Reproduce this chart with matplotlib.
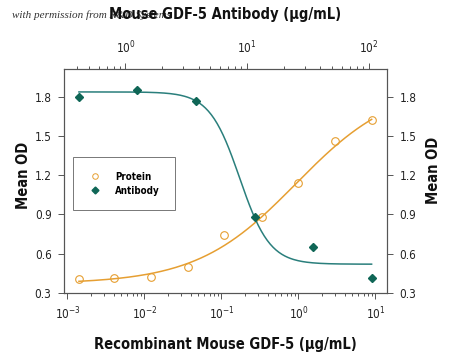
import numpy as np
import matplotlib
matplotlib.use("Agg")
import matplotlib.pyplot as plt
from matplotlib.lines import Line2D

plt.rcParams['font.family'] = ['DejaVu Sans']
plt.rcParams['font.stretch'] = 'condensed'
plt.rcParams['mathtext.default'] = 'regular'

# Recombinant protein (bottom axis, ug/mL)
protein_conc = [0.00141, 0.00406, 0.0121, 0.0371, 0.109, 0.333, 1.0, 2.98, 8.93]
protein_od = [0.407, 0.415, 0.425, 0.501, 0.739, 0.879, 1.140, 1.458, 1.619]
# antibody (top axis, ug/mL)
antibody_conc = [0.414, 1.25, 3.80, 11.6, 35.2, 106]
antibody_od = [1.798, 1.851, 1.764, 0.879, 0.654, 0.412]

# 4PL fit parameters: bottom, top, EC50, hill
protein_fit = (0.37, 1.90, 0.93, 0.672)
antibody_fit = (0.52, 1.835, 8.7, 3.5)

yticks = [0.3, 0.6, 0.9, 1.2, 1.5, 1.8]


def four_pl(x, bottom, top, ec50, hill):
    return bottom + (top - bottom) / (1 + (ec50 / x) ** hill)


orange = '#E69F32'
teal = '#2A7F7C'
teal_dark = '#0F6656'
axcol = '#555555'

fig = plt.figure(figsize=(4.5, 3.62), dpi=100)
ax = fig.add_axes([64 / 450, 1 - 293 / 362, 323 / 450, 224 / 362])
ax.set_xscale('log')
ax.set_xlim(10 ** -3.045, 10 ** 1.15)
ax.set_ylim(0.3, 2.01)
ax.set_yticks(yticks)
ax.set_yticklabels([f'{v:.1f}' for v in yticks])

xs = np.logspace(np.log10(protein_conc[0]), np.log10(protein_conc[-1]), 200)
ax.plot(xs, four_pl(xs, *protein_fit), color=orange, lw=1.1)
ax.plot(protein_conc, protein_od, 'o', ms=5.5, mfc='none', mec=orange, mew=0.8)

ax_top = ax.twiny()
ax_top.set_xscale('log')
ax_top.set_xlim(10 ** -0.506, 10 ** 2.152)
xa = np.logspace(np.log10(antibody_conc[0]), np.log10(antibody_conc[-1]), 200)
ax_top.plot(xa, four_pl(xa, antibody_fit[0], antibody_fit[1], antibody_fit[2], -antibody_fit[3]),
            color=teal, lw=1.1)
ax_top.plot(antibody_conc, antibody_od, 'D', ms=4.5, color=teal_dark)

for a in (ax, ax_top):
    for s in a.spines.values():
        s.set_color(axcol)
        s.set_linewidth(0.8)
    a.tick_params(which='both', direction='out', colors=axcol, labelcolor='#222222',
                  labelsize=8.5, width=0.7)
    a.tick_params(which='major', length=4, pad=5)
    a.tick_params(which='minor', length=2)

ax.tick_params(axis='y', left=True, right=True, labelleft=True, labelright=True)

handles = [Line2D([], [], ls='none', marker='o', ms=4, mfc='none', mec=orange, mew=0.7),
           Line2D([], [], ls='none', marker='D', ms=3.5, color=teal_dark)]
leg = ax_top.legend(handles, ['Protein', 'Antibody'], loc='upper left',
                    bbox_to_anchor=(0.028, 0.607), fancybox=False, edgecolor='#777777',
                    prop={'weight': 'bold', 'size': 7, 'stretch': 'condensed'},
                    handlelength=1.6, handletextpad=1.25, borderpad=1.5, labelspacing=0.4,
                    borderaxespad=0, framealpha=1)
leg.get_frame().set_linewidth(0.7)

lab = dict(fontsize=10.5, fontweight='bold', color='#111111', ha='center', va='center')
fig.text(12 / 450, 1 - 15 / 362, 'with permission from R&D Systems', fontsize=8, style='italic',
         family=['Liberation Serif', 'DejaVu Serif'], color='#333333', ha='left', va='center')
fig.text(225 / 450, 1 - 15 / 362, 'Mouse GDF-5 Antibody (\u03bcg/mL)', **lab)
fig.text(225 / 450, 1 - 345 / 362, 'Recombinant Mouse GDF-5 (\u03bcg/mL)', **lab)
fig.text(24 / 450, 1 - 175 / 362, 'Mean OD', rotation=90, **lab)
fig.text(433 / 450, 1 - 170 / 362, 'Mean OD', rotation=90, **lab)

fig.savefig('out.png', dpi=100)
